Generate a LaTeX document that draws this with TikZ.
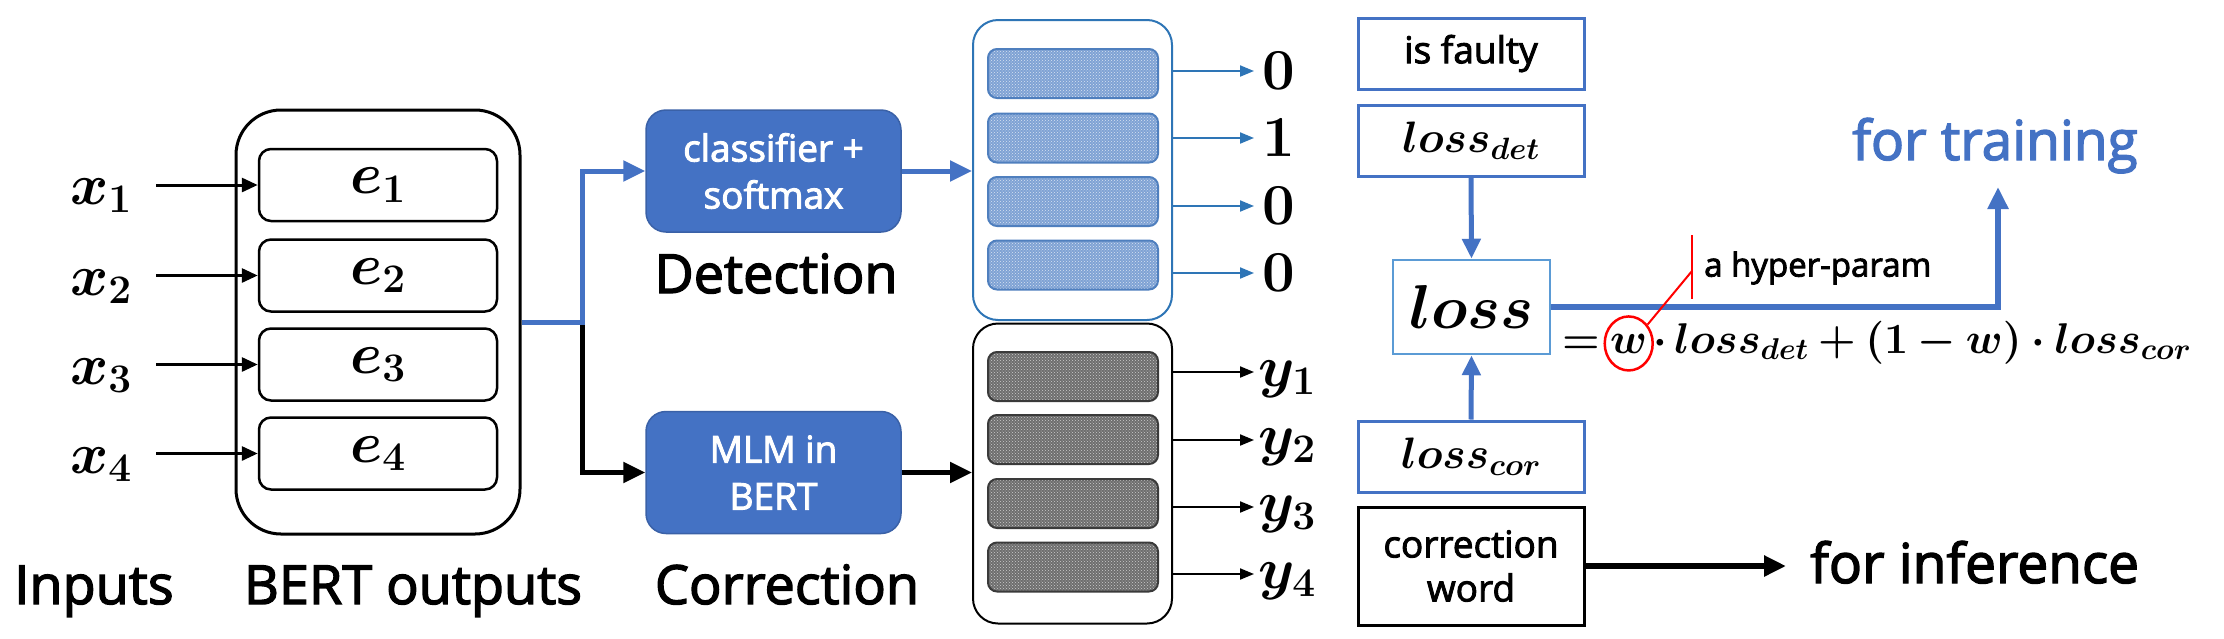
\RequirePackage{fix-cm}
\documentclass[tikz,border=0pt]{standalone}
\usepackage{amsmath}
\usepackage{bm}
\usepackage{fontspec}
\setmainfont{Open Sans}[UprightFeatures={FakeBold=2.5}]
\usetikzlibrary{arrows.meta,patterns,shapes.geometric}
\definecolor{bblue}{HTML}{4472C4}
\definecolor{sblue}{HTML}{2E75B6}
\definecolor{lblue}{HTML}{5B9BD5}
\definecolor{barblue}{HTML}{7FA2D4}
\definecolor{barblued}{HTML}{4F7FBE}
\definecolor{bargrey}{HTML}{6E6E6E}
\definecolor{bargreyd}{HTML}{3A3A3A}
\begin{document}
\begin{tikzpicture}[x=1pt,y=-1pt,
  every node/.style={inner sep=0pt},
  outerbox/.style={draw=black, line width=3pt, rounded corners=45pt, minimum width=284pt, minimum height=424pt},
  ebox/.style={draw=black, line width=2.5pt, rounded corners=12pt, minimum width=238pt, minimum height=72pt, font=\fontsize{58}{60}\selectfont},
  mlabel/.style={font=\fontsize{58}{60}\selectfont},
  inarrow/.style={draw=black, line width=3pt, -{Triangle[length=16pt,width=14pt]}},
  blueconn/.style={draw=bblue, line width=5pt, -{Triangle[length=22pt,width=20pt]}},
  blackconn/.style={draw=black, line width=5pt, -{Triangle[length=22pt,width=20pt]}},
  procbox/.style={fill=bblue, draw=bblue!85!black, line width=1.5pt, rounded corners=20pt, minimum width=255pt, minimum height=122pt, text=white, align=center, font=\fontsize{37}{47}\selectfont},
  caption/.style={font=\fontsize{54}{60}\selectfont, anchor=base},
  stackbox/.style={line width=2pt, rounded corners=25pt, minimum width=199pt, minimum height=300pt, fill=white},
  bluebar/.style={draw=barblued, line width=2pt, rounded corners=9pt, minimum width=170pt, minimum height=49pt, preaction={fill=barblue}, pattern=crosshatch dots, pattern color=white!70!barblue},
  greybar/.style={draw=bargreyd, line width=2pt, rounded corners=9pt, minimum width=170pt, minimum height=49pt, preaction={fill=bargrey}, pattern=crosshatch dots, pattern color=white!65!bargrey},
  outarrowb/.style={draw=sblue, line width=2pt, -{Triangle[length=14pt,width=11pt]}},
  outarrowk/.style={draw=black, line width=2pt, -{Triangle[length=14pt,width=11pt]}},
  rbox/.style={draw=bblue, line width=3pt, minimum width=226pt, minimum height=71pt, font=\fontsize{37}{44}\selectfont, align=center},
  thickblue/.style={draw=bblue, line width=6pt, -{Triangle[length=22pt,width=20pt]}},
  midblue/.style={draw=bblue, line width=5pt, -{Triangle[length=20pt,width=18pt]}},
  thickblack/.style={draw=black, line width=6pt, -{Triangle[length=22pt,width=20pt]}},
  redline/.style={draw=red, line width=2pt},
  formula/.style={font=\fontsize{43}{48}\selectfont, anchor=base west}
]
\useasboundingbox (0,0) rectangle (2224,638);

% ---------- BERT outputs ----------
\node[outerbox] (bert) at (378,322) {};
\node[ebox] (e1) at (378,185) {$\bm{e}_{\bm{1}}$};
\node[ebox] (e2) at (378,275.5) {$\bm{e}_{\bm{2}}$};
\node[ebox] (e3) at (378,364.5) {$\bm{e}_{\bm{3}}$};
\node[ebox] (e4) at (378,453.5) {$\bm{e}_{\bm{4}}$};

\node[mlabel, anchor=base east] (x1) at (132,204) {$\bm{x}_{\bm{1}}$};
\node[mlabel, anchor=base east] (x2) at (132,295) {$\bm{x}_{\bm{2}}$};
\node[mlabel, anchor=base east] (x3) at (132,384) {$\bm{x}_{\bm{3}}$};
\node[mlabel, anchor=base east] (x4) at (132,473) {$\bm{x}_{\bm{4}}$};
\foreach \i in {1,...,4}
  \draw[inarrow, shorten <=24pt] (x\i.east |- e\i.west) -- (e\i.west);

\node[caption] (inp) at (94,604) {Inputs};
\node[caption] (bo) at (413,604) {BERT outputs};

% ---------- Detection / Correction ----------
\node[procbox] (cls) at (773.5,171) {classifier +\\softmax};
\node[procbox] (mlm) at (773.5,472.5) {MLM in\\BERT};
\node[caption] (det) at (776,293) {Detection};
\node[caption] (cor) at (787,604) {Correction};

\coordinate (j) at (582,322);
\draw[blackconn] (j) |- (mlm.west);
\draw[blueconn] (bert.east) -- (j) |- (cls.west);

% ---------- stacked outputs ----------
\node[stackbox, draw=sblue] (topbox) at (1072.5,170) {};
\node[bluebar] (b1) at (1073,73.5) {};
\node[bluebar] (b2) at (1073,138) {};
\node[bluebar] (b3) at (1073,201.5) {};
\node[bluebar] (b4) at (1073,265) {};

\node[stackbox, draw=black] (botbox) at (1072.5,473.5) {};
\node[greybar] (g1) at (1073,376.5) {};
\node[greybar] (g2) at (1073,439.5) {};
\node[greybar] (g3) at (1073,503.5) {};
\node[greybar] (g4) at (1073,567) {};

\draw[blueconn] (cls.east) -- (topbox.west |- cls.east);
\draw[blackconn] (mlm.east) -- (botbox.west |- mlm.east);

\foreach \i/\v/\yy in {1/0/71,2/1/138,3/0/206,4/0/273}{
  \node[mlabel, anchor=west] (d\i) at (1262,\yy) {$\bm{\v}$};
  \coordinate (da\i) at (1254,\yy);
  \draw[outarrowb] (topbox.east |- da\i) -- (da\i);
}
\foreach \i/\yy in {1/372,2/440,3/507,4/574}{
  \node[mlabel, anchor=base west] (y\i) at (1258,\yy+14) {$\bm{y}_{\bm{\i}}$};
  \coordinate (ya\i) at (1254,\yy);
  \draw[outarrowk] (botbox.east |- ya\i) -- (ya\i);
}

% ---------- losses ----------
\node[rbox] (isf) at (1471,53.5) {is faulty};
\node[rbox, font=\fontsize{44}{48}\selectfont] (ldet) at (1471,140.5) {$\bm{loss_{det}}$};
\node[draw=lblue, line width=2.5pt, minimum width=157pt, minimum height=94pt, font=\fontsize{62}{66}\selectfont] (loss) at (1471.5,307) {$\bm{loss}$};
\node[rbox, font=\fontsize{44}{48}\selectfont] (lcor) at (1471,456.5) {$\bm{loss_{cor}}$};
\node[rbox, draw=black, minimum height=118pt] (cw) at (1471,566) {correction\\word};

\draw[midblue] (ldet.south) -- (loss.north);
\draw[midblue] (lcor.north) -- (loss.south);

\node[font=\fontsize{55}{60}\selectfont, text=bblue, anchor=base] (ftr) at (1995,160) {for training};
\coordinate (tr) at (1998,187);
\draw[thickblue] (loss.east) -| (tr);

\node[font=\fontsize{55}{60}\selectfont, anchor=base west] (finf) at (1810,583) {for inference};
\draw[thickblack, shorten >=24pt] (cw.east) -- (cw.east -| finf.west);

% ---------- formula ----------
\node[formula] (eq) at (1562,353) {$\bm{=}$};
\node[formula] (wv) at ([xshift=10pt]eq.base east) {$\bm{w}$};
\node[formula] (rest) at ([xshift=6pt]wv.base east) {$\bm{\cdot\, loss_{det} + (1-w)\cdot loss_{cor}}$};
\node[draw=red, line width=2.5pt, ellipse, minimum width=48pt, minimum height=54pt] (wc) at (wv) {};

\node[font=\fontsize{33}{38}\selectfont, anchor=west] (hp) at (1704,268) {a hyper-param};
\coordinate (tk1) at (1692,235);
\coordinate (tk2) at (1692,299);
\coordinate (tkm) at (1692,271);
\draw[redline] (tk1) -- (tk2);
\draw[redline] (tkm) -- (wc.45);
\end{tikzpicture}
\end{document}
